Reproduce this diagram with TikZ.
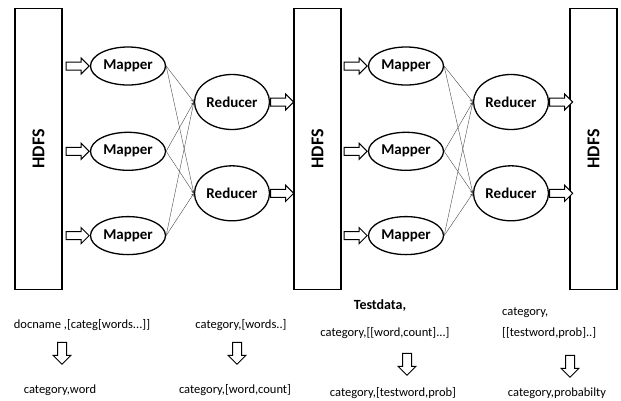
\documentclass[tikz,border=0pt]{standalone}
\usepackage{fontspec}
\setmainfont{Carlito}
\usepackage{tikz}
\usetikzlibrary{shapes}
\usetikzlibrary{arrows}
\usetikzlibrary{positioning}
\tikzstyle{hdfs} = [draw, fill=white, rectangle, line width=1.2pt,
minimum width=281pt, minimum height=47pt, rotate=90,
font=\fontsize{18}{18}\selectfont\bfseries]
\tikzstyle{mapper} = [draw, ellipse, line width=1.3pt, inner sep=0pt,
minimum width=75pt, minimum height=38pt, font=\fontsize{15}{15}\selectfont\bfseries]
\tikzstyle{reducer} = [mapper, minimum height=55pt]
\tikzstyle{hollow} = [draw, fill=white, single arrow, line width=1pt, inner sep=3.5pt,
minimum height=23pt, single arrow head extend=4pt, single arrow head indent=0pt]
\tikzstyle{down} = [hollow, shape border rotate=270, minimum height=22pt, inner sep=4pt,
single arrow head extend=4.5pt]
\tikzstyle{link} = [->, >=stealth, gray!60!black, line width=0.4pt]
\tikzstyle{note} = [inner sep=0pt, font=\fontsize{12.5}{21}\selectfont]

\begin{document}
\begin{tikzpicture}[x=1pt, y=-1pt]
		\useasboundingbox (0,0) rectangle (621,400);
		
		\node [hdfs] (hdfs1) at (38.5,149) {HDFS};
		\node [hdfs] (hdfs2) at (317.5,149) {HDFS};
		\node [hdfs] (hdfs3) at (593.5,149) {HDFS};
		
		% first job
		\node [mapper] (m1) at (128,66) {Mapper};
		\node [mapper] (m2) [below=46pt of m1] {Mapper};
		\node [mapper] (m3) [below=45pt of m2] {Mapper};
		\node [reducer] (r1) at (232,102) {Reducer};
		\node [reducer] (r2) [below=35pt of r1] {Reducer};
		
		\node [hollow] (in1) [left=0pt of m1] {};
		\node [hollow] (in2) [left=0pt of m2] {};
		\node [hollow] (in3) [left=0pt of m3] {};
		\node [hollow] (out1) [right=0pt of r1] {};
		\node [hollow] (out2) [right=0pt of r2] {};
		
		% second job
		\node [mapper] (n1) at (406,66) {Mapper};
		\node [mapper] (n2) [below=46pt of n1] {Mapper};
		\node [mapper] (n3) [below=45pt of n2] {Mapper};
		\node [reducer] (s1) at (511,102) {Reducer};
		\node [reducer] (s2) [below=35pt of s1] {Reducer};
		
		\node [hollow] (in4) [left=0pt of n1] {};
		\node [hollow] (in5) [left=0pt of n2] {};
		\node [hollow] (in6) [left=0pt of n3] {};
		\node [hollow] (out3) [right=0pt of s1] {};
		\node [hollow] (out4) [right=0pt of s2] {};
		
		\foreach \i in {1,2,3}
		\foreach \j in {1,2} {
			\draw [link] (m\i.east) -- (r\j.west);
			\draw [link] (n\i.east) -- (s\j.west);
		}
		
		% key/value formats
		\node [note] (kv1) at (82,325) {docname ,[categ[words...]]};
		\node [down] (d1) at (62,351) {};
		\node [note] (res1) at (60,390) {category,word};
		
		\node [note] (kv2) at (241,325) {category,[words..]};
		\node [down] (d2) at (237,351) {};
		\node [note] (res2) at (235,390) {category,[word,count]};
		
		\node [note, font=\fontsize{14}{14}\selectfont\bfseries] (test) at (380,306) {Testdata,};
		\node [note] (kv3) at (385,333) {category,[[word,count]...]};
		\node [down] (d3) at (407,362) {};
		\node [note] (res3) at (393,393) {category,[testword,prob]};
		
		\node [note, align=left, anchor=west] (kv4) at (502,323) {category,\\{[[testword,prob]..]}};
		\node [down] (d4) at (570,364) {};
		\node [note] (res4) at (557,393) {category,probabilty};
	\end{tikzpicture}
\end{document}
